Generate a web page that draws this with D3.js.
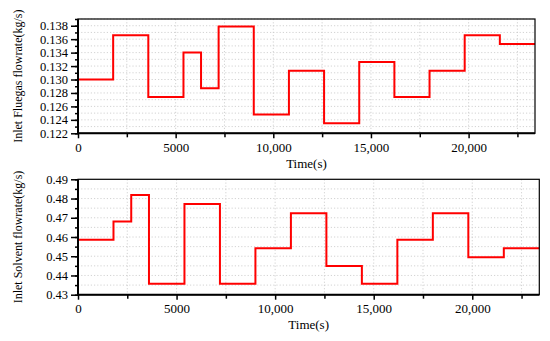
<!DOCTYPE html>
<html>
<head>
<meta charset="utf-8">
<script src="https://cdn.jsdelivr.net/npm/d3@7"></script>
<style>
  body { margin: 0; background: #fff; }
  svg { display: block; }
  svg text { font-family: "Liberation Serif", "Times New Roman", serif !important; fill: #000; }
  .domain { display: none; }
  .grid line { stroke: #c8c8c8; stroke-dasharray: 1.2 2; stroke-width: 0.8; }
</style>
</head>
<body>
<div id="chart"></div>
<script>
// data
const timeEnd = 23400
const fluegasTimes = [0, 1800, 3600, 5400, 6300, 7200, 9000, 10800, 12600, 14400, 16200, 18000, 19800, 21600]
const fluegasValues = [0.1300, 0.1366, 0.1274, 0.1340, 0.1287, 0.1379, 0.1248, 0.1313, 0.1235, 0.1326, 0.1274, 0.1313, 0.1366, 0.1353]
const solventTimes = [0, 1800, 2700, 3600, 5400, 7200, 9000, 10800, 12600, 14400, 16200, 18000, 19800, 21600]
const solventValues = [0.4586, 0.4680, 0.4818, 0.4357, 0.4771, 0.4357, 0.4542, 0.4724, 0.4449, 0.4357, 0.4586, 0.4724, 0.4495, 0.4542]
const xTicks = [0, 5000, 10000, 15000, 20000]
const fluegasTicks = [0.122, 0.124, 0.126, 0.128, 0.130, 0.132, 0.134, 0.136, 0.138]
const solventTicks = [0.43, 0.44, 0.45, 0.46, 0.47, 0.48, 0.49]

const svg = d3.select("#chart").append("svg")
  .attr("width", 550)
  .attr("height", 341)

const panels = [
  {
    box: { left: 78, right: 535, top: 19, bottom: 133.3 },
    times: fluegasTimes, values: fluegasValues,
    yDomain: [0.122, 0.139], yTicks: fluegasTicks, yFormat: d3.format(".3f"),
    yMinor: d3.range(0.122, 0.1395, 0.001), yGrid: d3.range(0.123, 0.1395, 0.001),
    yLabel: "Inlet Fluegas flowrate(kg/s)", xLabelY: 168
  },
  {
    box: { left: 78, right: 539.3, top: 179.3, bottom: 294.7 },
    times: solventTimes, values: solventValues,
    yDomain: [0.43, 0.49], yTicks: solventTicks, yFormat: d3.format(".2f"),
    yMinor: d3.range(0.43, 0.4901, 0.005), yGrid: d3.range(0.435, 0.4851, 0.005),
    yLabel: "Inlet Solvent flowrate(kg/s)", xLabelY: 329
  }
]

const xFormat = d => d < 10000 ? String(d) : d3.format(",")(d)

panels.forEach(p => {
  const b = p.box
  const x = d3.scaleLinear().domain([0, timeEnd]).range([b.left, b.right])
  const y = d3.scaleLinear().domain(p.yDomain).range([b.bottom, b.top])
  const g = svg.append("g")

  // grid
  const xGridVals = d3.range(2500, timeEnd, 2500)
  g.append("g").attr("class", "grid")
    .selectAll("line").data(xGridVals).join("line")
    .attr("x1", d => x(d)).attr("x2", d => x(d))
    .attr("y1", b.top).attr("y2", b.bottom)
  g.append("g").attr("class", "grid")
    .selectAll("line").data(p.yGrid).join("line")
    .attr("x1", b.left).attr("x2", b.right)
    .attr("y1", d => y(d)).attr("y2", d => y(d))

  // step line
  const pts = p.times.map((t, i) => [t, p.values[i]])
  pts.push([timeEnd, p.values[p.values.length - 1]])
  g.append("path")
    .datum(pts)
    .attr("fill", "none")
    .attr("stroke", "#ff0000")
    .attr("stroke-width", 2)
    .attr("d", d3.line().x(d => x(d[0])).y(d => y(d[1])).curve(d3.curveStepAfter))

  // frame
  g.append("rect")
    .attr("x", b.left).attr("y", b.top)
    .attr("width", b.right - b.left).attr("height", b.bottom - b.top)
    .attr("fill", "none").attr("stroke", "#000").attr("stroke-width", 1.2)
  g.append("line")
    .attr("x1", b.left).attr("x2", b.right).attr("y1", b.bottom).attr("y2", b.bottom)
    .attr("stroke", "#000").attr("stroke-width", 2)
  g.append("line")
    .attr("x1", b.left).attr("x2", b.left).attr("y1", b.top).attr("y2", b.bottom)
    .attr("stroke", "#000").attr("stroke-width", 2)

  // x axis
  g.append("g")
    .attr("transform", `translate(0, ${b.bottom})`)
    .call(d3.axisBottom(x).tickValues(xTicks).tickFormat(xFormat).tickSize(5).tickPadding(4))
  g.append("g")
    .attr("transform", `translate(0, ${b.bottom})`)
    .call(d3.axisBottom(x).tickValues(xGridVals.filter(d => d % 5000 !== 0)).tickFormat("").tickSize(4))

  // y axis
  const yAxis = g.append("g")
    .attr("transform", `translate(${b.left}, 0)`)
    .call(d3.axisLeft(y).tickValues(p.yTicks).tickFormat(p.yFormat).tickSize(7).tickPadding(3))
  g.append("g")
    .attr("transform", `translate(${b.left}, 0)`)
    .call(d3.axisLeft(y).tickValues(p.yMinor).tickFormat("").tickSize(3))

  g.selectAll(".tick line").attr("stroke", "#000").attr("stroke-width", 1.5)
  g.selectAll(".tick text").attr("font-size", 13)
  yAxis.selectAll(".tick text").attr("font-size", 12.5)

  // labels
  g.append("text")
    .attr("x", (b.left + b.right) / 2)
    .attr("y", p.xLabelY)
    .attr("text-anchor", "middle")
    .attr("font-size", 13)
    .text("Time(s)")
  g.append("text")
    .attr("transform", `translate(22, ${(b.top + b.bottom) / 2}) rotate(-90)`)
    .attr("text-anchor", "middle")
    .attr("font-size", 12)
    .text(p.yLabel)
})
</script>
</body>
</html>
